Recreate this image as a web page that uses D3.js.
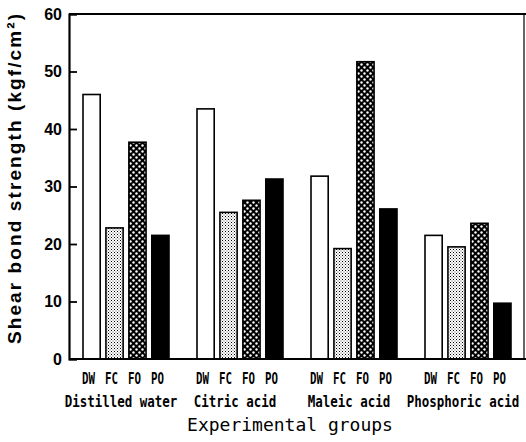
<!DOCTYPE html>
<html><head><meta charset="utf-8">
<script src="https://cdn.jsdelivr.net/npm/d3@7"></script>
<style>html,body{margin:0;padding:0;background:#fff;}svg{display:block;}</style>
</head><body>
<svg id="chart" width="526" height="442"></svg>
<script>
const groups = ["Distilled water", "Citric acid", "Maleic acid", "Phosphoric acid"];
const treatments = ["DW", "FC", "FO", "PO"];
const distilledWater = [46.0, 22.8, 37.7, 21.5];
const citricAcid = [43.5, 25.5, 27.6, 31.3];
const maleicAcid = [31.8, 19.2, 51.7, 26.1];
const phosphoricAcid = [21.5, 19.5, 23.6, 9.7];
const yTicks = [0, 10, 20, 30, 40, 50, 60];
const yLabel = "Shear bond strength (kgf/cm²)";
const xLabel = "Experimental groups";

const seriesByGroup = [distilledWater, citricAcid, maleicAcid, phosphoricAcid];

const svg = d3.select("#chart");
const L = 69, R = 524, T = 14, B = 359;

const y = d3.scaleLinear().domain([0, 60]).range([B, T]);
const xg = d3.scaleBand().domain(groups).range([L, L + 114 * 4]);
const xs = d3.scaleBand().domain(treatments).range([14, 100]).paddingInner(0.25).paddingOuter(0);

const defs = svg.append("defs");
const pFC = defs.append("pattern").attr("id", "pFC").attr("patternUnits", "userSpaceOnUse")
  .attr("width", 3).attr("height", 3);
pFC.append("rect").attr("width", 3).attr("height", 3).attr("fill", "#fff");
pFC.append("rect").attr("x", 0).attr("y", 0).attr("width", 1).attr("height", 1).attr("fill", "#000");
pFC.append("rect").attr("x", 1.5).attr("y", 1.5).attr("width", 1).attr("height", 1).attr("fill", "#555");
const pFO = defs.append("pattern").attr("id", "pFO").attr("patternUnits", "userSpaceOnUse")
  .attr("width", 6).attr("height", 6);
pFO.append("rect").attr("width", 6).attr("height", 6).attr("fill", "#000");
pFO.append("circle").attr("cx", 1.5).attr("cy", 1.5).attr("r", 1.2).attr("fill", "#fff");
pFO.append("circle").attr("cx", 4.5).attr("cy", 4.5).attr("r", 1.2).attr("fill", "#fff");

const fills = {DW: "#fff", FC: "url(#pFC)", FO: "url(#pFO)", PO: "#000"};
const labelFont = "DejaVu Sans Mono";

groups.forEach((g, gi) => {
  const gx = xg(g);
  const vals = seriesByGroup[gi];
  const gSel = svg.append("g").attr("transform", `translate(${gx},0)`);
  gSel.selectAll("rect").data(treatments.map((t, i) => ({t, v: vals[i]})))
    .join("rect")
    .attr("x", d => xs(d.t))
    .attr("y", d => y(d.v))
    .attr("width", xs.bandwidth())
    .attr("height", d => y(0) - y(d.v))
    .attr("fill", d => fills[d.t])
    .attr("stroke", "#000").attr("stroke-width", 1.6);
  gSel.selectAll("text").data(treatments).join("text")
    .attr("transform", d => `translate(${xs(d) + xs.bandwidth() / 2 - 3},384) scale(0.72,1)`)
    .attr("text-anchor", "middle")
    .attr("font-family", labelFont)
    .attr("font-weight", "bold")
    .attr("font-size", 15)
    .text(d => d);
  svg.append("text")
    .attr("transform", `translate(${gx + xg.bandwidth() / 2 - 5},407) scale(0.78,1)`)
    .attr("text-anchor", "middle")
    .attr("font-family", labelFont)
    .attr("font-weight", "bold")
    .attr("font-size", 16)
    .text(g);
});

const frame = svg.append("g").attr("fill", "none").attr("stroke", "#000");
frame.append("line").attr("x1", L).attr("x2", 526).attr("y1", T).attr("y2", T).attr("stroke-width", 2);
frame.append("line").attr("x1", R).attr("x2", R).attr("y1", T).attr("y2", B).attr("stroke-width", 1.2);

const yAxis = d3.axisRight(y).tickValues(yTicks).tickSize(8).tickFormat("");
const ya = svg.append("g").attr("transform", `translate(${L},0)`).call(yAxis);
ya.select(".domain").attr("stroke-width", 2.2);
ya.selectAll(".tick line").attr("stroke-width", 1.8);
svg.append("g").selectAll("text").data(yTicks).join("text")
  .attr("x", 62).attr("y", d => y(d)).attr("dy", "0.36em")
  .attr("text-anchor", "end")
  .attr("font-family", "Liberation Sans, Arial, sans-serif")
  .attr("font-weight", "bold").attr("font-size", 16)
  .text(d => d);

const xAxis = d3.axisBottom(xg).tickSize(0).tickFormat("");
const xa = svg.append("g").attr("transform", `translate(0,${B})`).call(xAxis);
xa.select(".domain").attr("d", `M${L},0H526`).attr("stroke-width", 2.2);

svg.append("text")
  .attr("transform", "translate(21,178) rotate(-90)")
  .attr("text-anchor", "middle")
  .attr("font-family", "Liberation Sans, Arial, sans-serif")
  .attr("font-weight", "bold").attr("font-size", 19)
  .attr("letter-spacing", 2.1)
  .text(yLabel);

svg.append("text")
  .attr("transform", "translate(290,431)")
  .attr("text-anchor", "middle")
  .attr("font-family", labelFont)
  .attr("font-size", 18)
  .text(xLabel);
</script>
</body></html>
